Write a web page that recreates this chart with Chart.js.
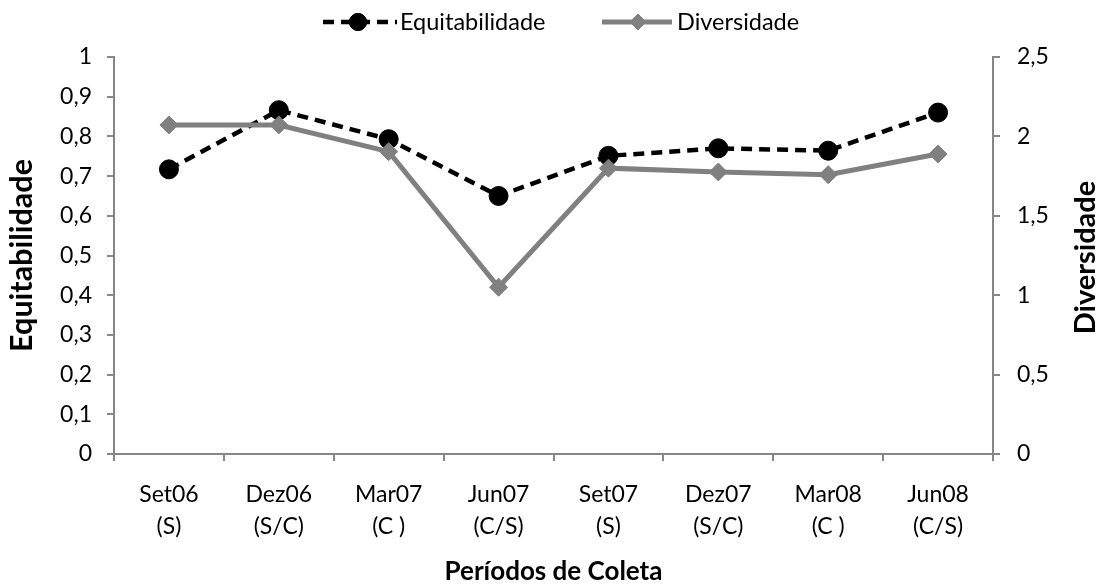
<!DOCTYPE html>
<html>
<head>
<meta charset="utf-8">
<script src="https://cdn.jsdelivr.net/npm/chart.js@4"></script>
<style>
  html, body { margin: 0; padding: 0; background: #ffffff; }
  #wrap { width: 1102px; height: 587px; }
</style>
</head>
<body>
<div id="wrap"><canvas id="c" width="1102" height="587"></canvas></div>
<script>
const categories = [
  ['Set06', '(S)'], ['Dez06', '(S/C)'], ['Mar07', '(C )'], ['Jun07', '(C/S)'],
  ['Set07', '(S)'], ['Dez07', '(S/C)'], ['Mar08', '(C )'], ['Jun08', '(C/S)']
];
const equitabilidade = [0.717, 0.866, 0.793, 0.650, 0.751, 0.770, 0.764, 0.860];
const diversidade = [2.072, 2.072, 1.904, 1.050, 1.800, 1.776, 1.759, 1.889];
const leftTicks = [0, 0.1, 0.2, 0.3, 0.4, 0.5, 0.6, 0.7, 0.8, 0.9, 1];
const rightTicks = [0, 0.5, 1, 1.5, 2, 2.5];
const seriesNames = ['Equitabilidade', 'Diversidade'];
const axisTitles = { left: 'Equitabilidade', right: 'Diversidade', bottom: 'Períodos de Coleta' };

const FONT = 'Lato, "Open Sans", sans-serif';
const AXIS_COLOR = '#868686';
const fmt = v => String(Math.round(v * 10) / 10).replace('.', ',');

const customDecor = {
  id: 'customDecor',
  afterDraw(chart) {
    const ctx = chart.ctx;
    ctx.save();
    const area = chart.chartArea;
    ctx.fillStyle = '#000';
    ctx.font = 'bold 29px ' + FONT;
    ctx.textAlign = 'center';
    ctx.textBaseline = 'middle';
    ctx.translate(1086, (area.top + area.bottom) / 2 + 2);
    ctx.rotate(-Math.PI / 2);
    ctx.fillText(axisTitles.right, 0, 0);
    ctx.restore();

    const items = [
      { x0: 323, x1: 397, mx: 358, tx: 400 },
      { x0: 602, x1: 672, mx: 638, tx: 677 }
    ];
    const ly = 22;
    chart.data.datasets.forEach((ds, i) => {
      const it = items[i];
      ctx.save();
      ctx.strokeStyle = ds.borderColor;
      ctx.lineWidth = ds.borderWidth;
      ctx.setLineDash(ds.borderDash || []);
      ctx.beginPath();
      ctx.moveTo(it.x0, ly);
      ctx.lineTo(it.x1, ly);
      ctx.stroke();
      ctx.setLineDash([]);
      ctx.lineWidth = ds.pointBorderWidth;
      Chart.helpers.drawPoint(ctx, {
        pointStyle: ds.pointStyle,
        radius: ds.pointRadius - 1,
        borderWidth: ds.pointBorderWidth,
        rotation: 0
      }, it.mx, ly);
      ctx.fillStyle = ds.pointBackgroundColor;
      ctx.strokeStyle = ds.pointBorderColor;
      ctx.fill();
      ctx.stroke();
      ctx.fillStyle = '#000';
      ctx.font = '23.5px ' + FONT;
      ctx.textAlign = 'left';
      ctx.textBaseline = 'middle';
      ctx.fillText(ds.label, it.tx, ly);
      ctx.restore();
    });
  }
};

new Chart(document.getElementById('c'), {
  type: 'line',
  data: {
    labels: categories,
    datasets: [
      {
        label: seriesNames[0],
        data: equitabilidade,
        yAxisID: 'y',
        borderColor: '#000000',
        backgroundColor: '#000000',
        borderWidth: 4.5,
        borderDash: [11, 7],
        pointStyle: 'circle',
        pointRadius: 9.5,
        pointBorderWidth: 1,
        pointBackgroundColor: '#000000',
        pointBorderColor: '#000000',
        tension: 0,
        order: 1
      },
      {
        label: seriesNames[1],
        data: diversidade,
        yAxisID: 'y2',
        borderColor: '#808080',
        backgroundColor: '#808080',
        borderWidth: 5,
        pointStyle: 'rectRot',
        pointRadius: 9,
        pointBorderWidth: 1,
        pointBackgroundColor: '#808080',
        pointBorderColor: '#808080',
        tension: 0,
        order: 0
      }
    ]
  },
  options: {
    responsive: false,
    animation: false,
    layout: { padding: { top: 57, left: 0, right: 0, bottom: 0 } },
    plugins: {
      legend: { display: false },
      tooltip: { enabled: false }
    },
    scales: {
      x: {
        type: 'category',
        offset: true,
        grid: { offset: true, drawOnChartArea: false, drawTicks: true, tickLength: 7, color: AXIS_COLOR, lineWidth: 2 },
        border: { display: true, color: AXIS_COLOR, width: 2 },
        ticks: { color: '#000', font: { family: FONT, size: 23, lineHeight: 1.39 }, padding: 18, maxRotation: 0, autoSkip: false },
        title: { display: true, text: axisTitles.bottom, color: '#000', font: { family: FONT, size: 26, weight: 'bold', lineHeight: 1.2 }, padding: { top: 0, bottom: 0 } },
        afterFit(scale) { scale.height = 133; }
      },
      y: {
        position: 'left',
        min: 0, max: 1,
        afterBuildTicks(scale) { scale.ticks = leftTicks.map(v => ({ value: v })); },
        grid: { drawOnChartArea: false, drawTicks: true, tickLength: 7, color: AXIS_COLOR, lineWidth: 2 },
        border: { display: true, color: AXIS_COLOR, width: 2 },
        ticks: { color: '#000', font: { family: FONT, size: 23 }, padding: 15, callback: v => fmt(v) },
        title: { display: true, text: axisTitles.left, color: '#000', font: { family: FONT, size: 30.5, weight: 'bold', lineHeight: 1.2 }, padding: { top: 4, bottom: 0 } },
        afterFit(scale) { scale.width = 114; }
      },
      y2: {
        position: 'right',
        min: 0, max: 2.5,
        afterBuildTicks(scale) { scale.ticks = rightTicks.map(v => ({ value: v })); },
        grid: { drawOnChartArea: false, drawTicks: true, tickLength: 7, color: AXIS_COLOR, lineWidth: 2 },
        border: { display: true, color: AXIS_COLOR, width: 2 },
        ticks: { color: '#000', font: { family: FONT, size: 23 }, padding: 17, callback: v => fmt(v) },
        afterFit(scale) { scale.width = 109; }
      }
    }
  },
  plugins: [customDecor]
});
</script>
</body>
</html>
